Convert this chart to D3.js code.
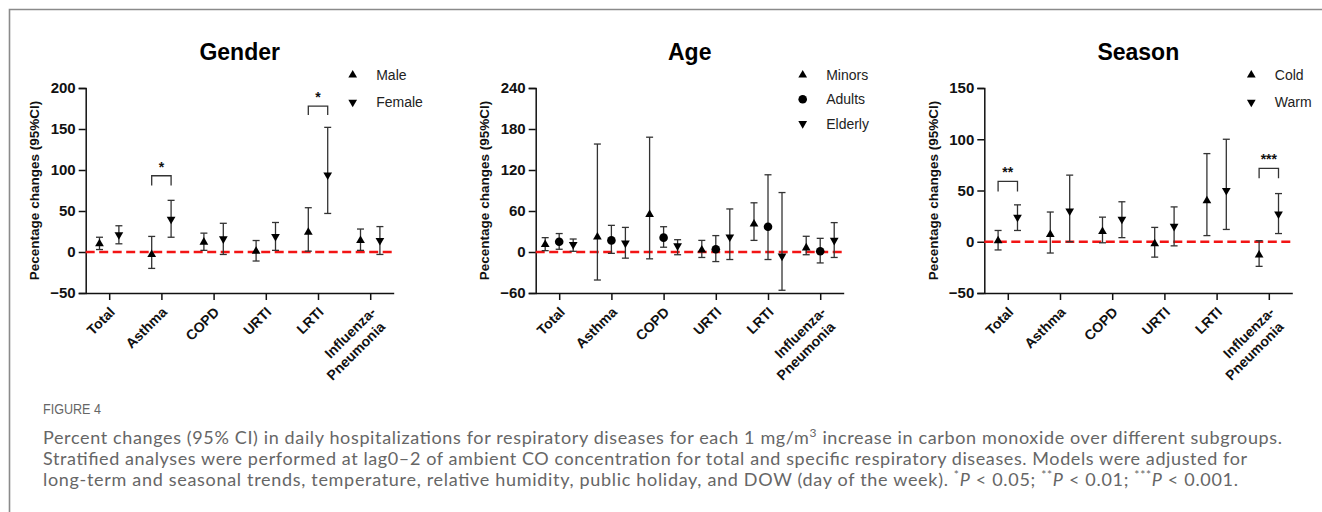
<!DOCTYPE html>
<html><head><meta charset="utf-8">
<script src="https://cdn.jsdelivr.net/npm/d3@7"></script>
<style>
body{margin:0;background:#fff;}
svg{display:block;}
</style></head>
<body>
<svg id="c" width="1322" height="512"></svg>
<script>
const categories = ["Total","Asthma","COPD","URTI","LRTI","Influenza-Pneumonia"];

// Gender
const maleEst = [10, -3, 12, 1, 24, 14];
const maleLo  = [3, -20, 2, -11, 1, 2];
const maleHi  = [18, 19, 23, 14, 54, 28];
const femaleEst = [21, 40, 16, 19, 94, 14];
const femaleLo  = [10, 18, -3, 2, 47, -3];
const femaleHi  = [32, 63, 35, 36, 152, 31];

// Age
const minorsEst = [11, 22, 55, 3, 41, 6];
const minorsLo  = [2, -41, -10, -8, 17, -4];
const minorsHi  = [21, 158, 168, 17, 72, 23];
const adultsEst = [15, 17, 21, 4, 37, 1];
const adultsLo  = [4, -2, 7, -14, -11, -16];
const adultsHi  = [27, 39, 37, 24, 113, 20];
const elderlyEst = [11, 13, 9, 22, -6, 17];
const elderlyLo  = [1, -9, -4, -11, -56, -8];
const elderlyHi  = [19, 36, 18, 63, 87, 43];

// Season
const coldEst = [1, 7, 10, -2, 40, -13];
const coldLo  = [-8, -11, -1, -15, 6, -24];
const coldHi  = [11, 29, 24, 14, 86, 1];
const warmEst = [24, 30, 22, 15, 50, 27];
const warmLo  = [11, 0, 4, -4, 12, 8];
const warmHi  = [36, 65, 39, 34, 100, 47];

// y tick labels
const genderTicks = [-50, 0, 50, 100, 150, 200];
const ageTicks = [-60, 0, 60, 120, 180, 240];
const seasonTicks = [-50, 0, 50, 100, 150];

// significance brackets: category, label, bracket top value, leg bottom value
const genderSig = [{cat:"Asthma", label:"*", top:93, bottom:81}, {cat:"LRTI", label:"*", top:178, bottom:167}];
const seasonSig = [{cat:"Total", label:"**", top:59, bottom:49}, {cat:"Influenza-Pneumonia", label:"***", top:71.5, bottom:62}];

const svg = d3.select("#c");
const FONT = "'Liberation Sans', Arial, sans-serif";

// frame
svg.append("path").attr("d","M9.5,512 V9.5 H1322").attr("fill","none").attr("stroke","#8a8a8a").attr("stroke-width",1.6);

const sym = {
  up: d3.symbol().type(d3.symbolTriangle).size(33)(),
  circle: d3.symbol().type(d3.symbolCircle).size(58)(),
};

function panel(cfg){
  const g = svg.append("g");
  const x0 = cfg.left, x1 = cfg.left + 308;
  const yTop = 88, yBot = 293;
  const x = d3.scalePoint().domain(categories).range([x0, x1]).padding(0.45);
  const y = d3.scaleLinear().domain(cfg.domain).range([yBot, yTop]);
  const k = cfg.series.length;
  const off = d3.scalePoint().domain(d3.range(k)).range(k === 2 ? [-9.7, 9.7] : [-14, 14]);

  // title
  g.append("text").attr("x",(x0+x1)/2).attr("y",60).attr("text-anchor","middle")
    .attr("font-family",FONT).attr("font-weight","bold").attr("font-size",23).attr("fill","#000").text(cfg.title);

  // y axis
  const ya = g.append("g").attr("transform",`translate(${x0},0)`)
    .call(d3.axisLeft(y).tickValues(cfg.ticks).tickSize(7).tickPadding(3).tickFormat(d3.format("d")));
  ya.select(".domain").attr("stroke","#111").attr("stroke-width",1.5);
  ya.selectAll(".tick line").attr("stroke","#111").attr("stroke-width",1.5);
  ya.selectAll(".tick text").attr("font-family",FONT).attr("font-weight","bold").attr("font-size",15).attr("fill","#111");

  // x axis
  const xa = g.append("g").attr("transform",`translate(0,${yBot})`)
    .call(d3.axisBottom(x).tickSize(7).tickSizeOuter(0).tickFormat(""));
  xa.select(".domain").attr("stroke","#111").attr("stroke-width",1.5);
  xa.selectAll(".tick line").attr("stroke","#111").attr("stroke-width",1.5);
  xa.selectAll(".tick").each(function(d){
    const t = d3.select(this).append("text")
      .attr("transform","translate(6,20) rotate(-45)")
      .attr("text-anchor","end").attr("font-family",FONT).attr("font-weight","bold")
      .attr("font-size",14).attr("fill","#111");
    const parts = d.split("-");
    if(parts.length === 2){
      t.append("tspan").attr("x",0).attr("y",0).text(parts[0]+"-");
      t.append("tspan").attr("x",-4).attr("dy",17).text(parts[1]);
    } else {
      t.append("tspan").attr("x",0).attr("y",0).text(d);
    }
  });

  // y label
  g.append("text").attr("transform",`translate(${x0-51},${(yTop+yBot)/2}) rotate(-90)`)
    .attr("text-anchor","middle").attr("dy","0.35em").attr("font-family",FONT).attr("font-weight","bold")
    .attr("font-size",13.5).attr("fill","#111").text("Pecentage changes (95%CI)");

  // zero line
  g.append("line").attr("x1",x0).attr("x2",x1).attr("y1",y(0)).attr("y2",y(0))
    .attr("stroke","#f21414").attr("stroke-width",2.4).attr("stroke-dasharray","9,4.5");

  // error bars and markers
  cfg.series.forEach((s,i)=>{
    const data = categories.map((c,j)=>({c, est:s.est[j], lo:s.lo[j], hi:s.hi[j]}));
    const sg = g.append("g");
    const cx = d => x(d.c) + off(i);
    sg.selectAll("line.v").data(data).join("line").attr("class","v")
      .attr("x1",cx).attr("x2",cx).attr("y1",d=>y(d.lo)).attr("y2",d=>y(d.hi))
      .attr("stroke","#333").attr("stroke-width",1.3);
    ["lo","hi"].forEach(key=>{
      sg.selectAll("line."+key).data(data).join("line").attr("class",key)
        .attr("x1",d=>cx(d)-3.5).attr("x2",d=>cx(d)+3.5).attr("y1",d=>y(d[key])).attr("y2",d=>y(d[key]))
        .attr("stroke","#333").attr("stroke-width",1.3);
    });
    sg.selectAll("path").data(data).join("path")
      .attr("d", s.shape === "circle" ? sym.circle : sym.up)
      .attr("transform", d=>`translate(${cx(d)},${y(d.est)})${s.shape==="down"?" rotate(180)":""}`)
      .attr("fill","#000");
    // legend
    const ly = 75 + i * (k === 2 ? 27.3 : 24.3);
    g.append("path").attr("d", s.shape === "circle" ? sym.circle : sym.up)
      .attr("transform",`translate(${x1-41},${ly})${s.shape==="down"?" rotate(180)":""}`).attr("fill","#000");
    g.append("text").attr("x",x1-17.5).attr("y",ly).attr("dy","0.35em")
      .attr("font-family",FONT).attr("font-size",14).attr("fill","#222").text(s.name);
  });

  // significance
  (cfg.sig||[]).forEach(b=>{
    const xa_ = x(b.cat) + off(0), xb_ = x(b.cat) + off(k-1);
    g.append("path").attr("d",`M${xa_},${y(b.bottom)} V${y(b.top)} H${xb_} V${y(b.bottom)}`)
      .attr("fill","none").attr("stroke","#333").attr("stroke-width",1.3);
    g.append("text").attr("x",(xa_+xb_)/2).attr("y",y(b.top)-4).attr("text-anchor","middle")
      .attr("font-family",FONT).attr("font-weight","bold").attr("font-size",14).attr("fill","#111").text(b.label);
  });
}

panel({title:"Gender", left:85.7, domain:[-50,200], ticks:genderTicks, sig:genderSig,
  series:[{name:"Male",shape:"up",est:maleEst,lo:maleLo,hi:maleHi},
          {name:"Female",shape:"down",est:femaleEst,lo:femaleLo,hi:femaleHi}]});
panel({title:"Age", left:535.7, domain:[-60,240], ticks:ageTicks,
  series:[{name:"Minors",shape:"up",est:minorsEst,lo:minorsLo,hi:minorsHi},
          {name:"Adults",shape:"circle",est:adultsEst,lo:adultsLo,hi:adultsHi},
          {name:"Elderly",shape:"down",est:elderlyEst,lo:elderlyLo,hi:elderlyHi}]});
panel({title:"Season", left:984.3, domain:[-50,150], ticks:seasonTicks, sig:seasonSig,
  series:[{name:"Cold",shape:"up",est:coldEst,lo:coldLo,hi:coldHi},
          {name:"Warm",shape:"down",est:warmEst,lo:warmLo,hi:warmHi}]});

// caption
const CAP = "Lato, 'Open Sans', sans-serif";
svg.append("text").attr("x",43).attr("y",414).attr("font-family","'Liberation Sans', sans-serif")
  .attr("font-size",14).attr("fill","#666").attr("textLength",58).attr("lengthAdjust","spacingAndGlyphs").text("FIGURE 4");
const cap = svg.append("g").attr("font-family",CAP).attr("font-size",18).attr("fill","#666");
const l1 = cap.append("text").attr("x",43).attr("y",444).attr("textLength",1239).attr("lengthAdjust","spacing");
l1.append("tspan").text("Percent changes (95% CI) in daily hospitalizations for respiratory diseases for each 1 mg/m");
l1.append("tspan").attr("dy",-7).attr("font-size",12).text("3");
l1.append("tspan").attr("dy",7).text(" increase in carbon monoxide over different subgroups.");
cap.append("text").attr("x",43).attr("y",465).attr("textLength",1204).attr("lengthAdjust","spacing")
  .text("Stratified analyses were performed at lag0\u20132 of ambient CO concentration for total and specific respiratory diseases. Models were adjusted for");
const l3 = cap.append("text").attr("x",43).attr("y",486).attr("textLength",1195).attr("lengthAdjust","spacing");
l3.append("tspan").text("long-term and seasonal trends, temperature, relative humidity, public holiday, and DOW (day of the week). ");
l3.append("tspan").attr("dy",-7).attr("font-size",12).text("*");
l3.append("tspan").attr("dy",7).attr("font-style","italic").text("P");
l3.append("tspan").text(" < 0.05; ");
l3.append("tspan").attr("dy",-7).attr("font-size",12).text("**");
l3.append("tspan").attr("dy",7).attr("font-style","italic").text("P");
l3.append("tspan").text(" < 0.01; ");
l3.append("tspan").attr("dy",-7).attr("font-size",12).text("***");
l3.append("tspan").attr("dy",7).attr("font-style","italic").text("P");
l3.append("tspan").text(" < 0.001.");
</script>
</body></html>
